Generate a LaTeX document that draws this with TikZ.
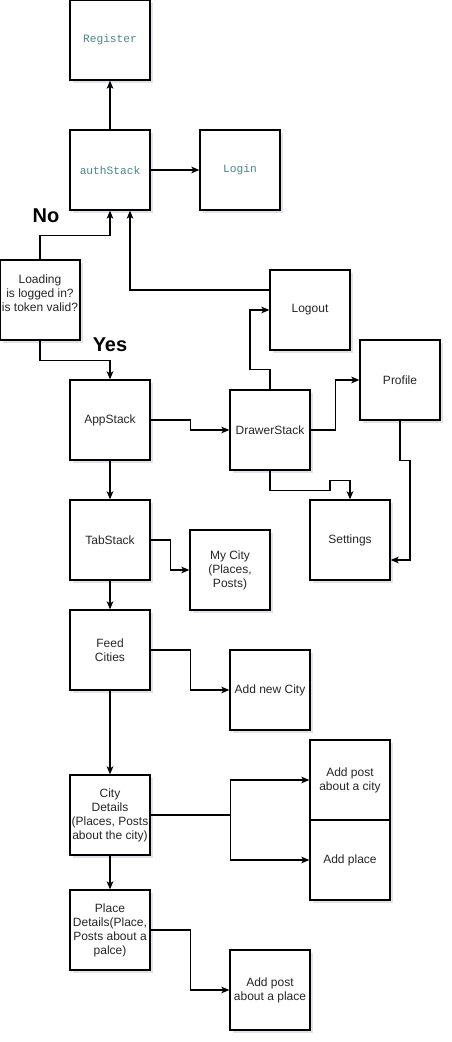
\documentclass[tikz,border=0pt]{standalone}
\usepackage{fontspec}
\setmainfont{Liberation Sans}
\newfontfamily\codefont{Liberation Mono}
\usetikzlibrary{arrows.meta,positioning,shadows}
\definecolor{codeColor}{RGB}{74,135,135}
\definecolor{shadowColor}{RGB}{140,140,170}
\tikzset{screen/.style={draw, fill=white, line width=1pt, minimum size=60pt, inner sep=1pt, align=center, text=black!85, font=\fontsize{9}{10.5}\selectfont, drop shadow={shadow xshift=2pt, shadow yshift=-2pt, opacity=.25, fill=shadowColor}}}
\tikzset{codescreen/.style={screen, text=codeColor, font=\codefont\fontsize{8.4}{10}\selectfont}}
\tikzset{connector/.style={line width=0.9pt, -{Stealth[length=6pt, width=5pt, inset=1.5pt]}}}
\tikzset{answer/.style={font=\bfseries\fontsize{15}{18}\selectfont}}

\begin{document}
\begin{tikzpicture}[x=0.75pt, y=-0.75pt, node distance=36.5pt]
\useasboundingbox (0,0) rectangle (452,1042);
% Nodes
\node (AuthStack) [codescreen] at (110,170) {authStack};
\node (Register) [codescreen, above=of AuthStack] {Register};
\node (Login) [codescreen, right=of AuthStack] {Login};
\node (Loading) [screen] at (40,300) {Loading\\ is logged in?\\ is token valid?\\ \mbox{}};
\node (Logout) [screen] at (310,310) {Logout};

\node (AppStack) [screen] at (110,420) {AppStack};
\node (DrawerStack) [screen] at (270,430) {DrawerStack};
\node (Profile) [screen] at (400,380) {Profile};
\node (Settings) [screen] at (350,540) {Settings};

\node (TabStack) [screen, below=29pt of AppStack] {TabStack};
\node (MyCity) [screen] at (230,570) {My City\\ (Places,\\ Posts)};
\node (FeedCities) [screen, below=21.5pt of TabStack] {Feed\\ Cities};
\node (AddNewCity) [screen] at (270,690) {Add new City};

\node (CityDetails) [screen, below=62.75pt of FeedCities] {City\\ Details\\ (Places, Posts\\ about the city)};
\node (AddPostCity) [screen] at (350,780) {Add post\\ about a city};
\node (AddPlace) [screen, below=-1pt of AddPostCity] {Add place};
\node (PlaceDetails) [screen, below=25.25pt of CityDetails] {Place\\ Details(Place,\\ Posts about a\\ palce)};
\node (AddPostPlace) [screen] at (270,990) {Add post\\ about a place};

\node (NoLabel) [answer] at (46,216) {No};
\node (YesLabel) [answer] at (110,345) {Yes};

% Connectors
\begin{scope}[connector]

\draw (AuthStack) -- (Register);
\draw (AuthStack) -- (Login);

\draw (Loading.north) -- ++(0,-24) -| (AuthStack.south);
\draw ([yshift=15pt]Logout.west) -| ([xshift=15pt]AuthStack.south);
\draw (Loading.south) -- ++(0,20) -| (AppStack.north);

\draw (AppStack.east) -- ++(40,0) |- (DrawerStack.west);
\draw (DrawerStack.north) -- ++(0,-20) -- ++(-20,0) |- (Logout.west);
\draw (DrawerStack.east) -- ++(25,0) |- (Profile.west);
\draw (DrawerStack.south) -- ++(0,20) -- ++(60,0) -- ++(0,-10) -| (Settings.north);
\draw (Profile.south) -- ++(0,40) -- ++(10,0) |- ([yshift=-15pt]Settings.east);

\draw (AppStack) -- (TabStack);
\draw (TabStack.east) -- ++(20,0) |- (MyCity.west);
\draw (TabStack) -- (FeedCities);
\draw (FeedCities.east) -- ++(40,0) |- (AddNewCity.west);
\draw (FeedCities) -- (CityDetails);

\draw (CityDetails.east) -- ++(80,0) |- (AddPostCity.west);
\draw (CityDetails.east) -- ++(80,0) |- (AddPlace.west);
\draw (CityDetails) -- (PlaceDetails);
\draw (PlaceDetails.east) -- ++(40,0) |- (AddPostPlace.west);

\end{scope}

\end{tikzpicture}
\end{document}
